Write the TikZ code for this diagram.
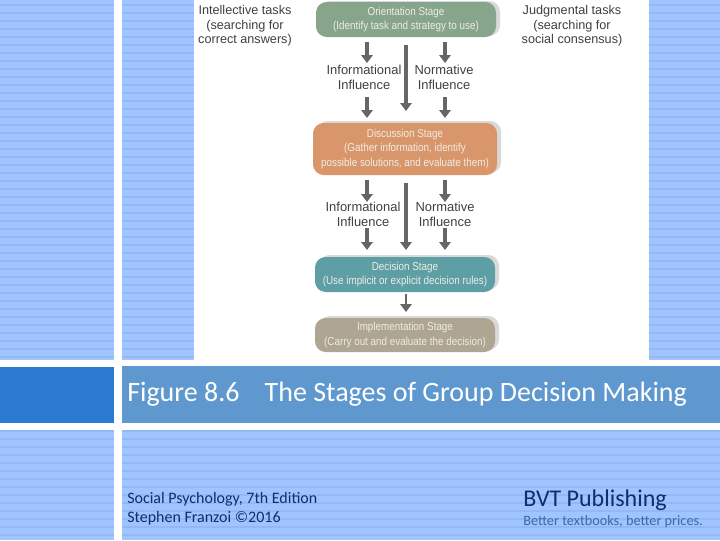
\documentclass[tikz,border=0pt]{standalone}
\usepackage{fontspec}
\setmainfont{Carlito}
\newfontfamily\figfont{Liberation Sans}
\newfontfamily\stagefont[FakeStretch=0.86]{Liberation Sans}
\usetikzlibrary{arrows.meta}
\definecolor{panelblue}{HTML}{9FC4FF}
\definecolor{stripeblue}{HTML}{92B9F4}
\definecolor{bandblue}{HTML}{5F98CE}
\definecolor{darkblue}{HTML}{2A7AD2}
\definecolor{flowgray}{HTML}{666666}
\definecolor{orientgreen}{HTML}{86A58B}
\definecolor{discussorange}{HTML}{D9966B}
\definecolor{decideteal}{HTML}{5D9FA5}
\definecolor{implementtan}{HTML}{AEA592}
\definecolor{stagetext}{HTML}{EDEDE4}
\definecolor{navytext}{HTML}{0F2F6B}
\definecolor{slogantext}{HTML}{3A68A8}
\tikzset{
  stage/.style={rounded corners=8pt, inner sep=0pt, align=center, text=stagetext,
    font=\stagefont\fontsize{8.6}{10.8}\selectfont},
  influence/.style={align=center, text=black!75, font=\figfont\fontsize{9.7}{11.2}\selectfont},
  tasks/.style={align=center, text=black!75, font=\figfont\fontsize{9.5}{10.8}\selectfont},
  flow/.style={draw=flowgray, line width=2.6pt, -{Triangle[length=6pt, width=8.5pt]}},
  panel/.style={fill=panelblue, draw=none}
}
\begin{document}
\begin{tikzpicture}[x=0.75pt, y=-0.75pt]
  \useasboundingbox (0,0) rectangle (720,540);

  % panels
  \fill[white] (0,0) rectangle (720,540);
  \fill[panel] (0,0) rectangle (114,360);
  \fill[panel] (122,0) rectangle (194,360);
  \fill[panel] (649,0) rectangle (720,360);
  \fill[panel] (0,430) rectangle (114,540);
  \fill[panel] (122,430) rectangle (720,540);
  \foreach \y in {4,12,...,356} {
    \fill[stripeblue] (0,\y) rectangle (114,\y+2);
    \fill[stripeblue] (122,\y) rectangle (194,\y+2);
    \fill[stripeblue] (649,\y) rectangle (720,\y+2);
  }
  \foreach \y in {430,438,...,534} {
    \fill[stripeblue] (0,\y) rectangle (114,\y+2);
    \fill[stripeblue] (122,\y) rectangle (720,\y+2);
  }
  \fill[darkblue] (0,367) rectangle (114,423);
  \fill[bandblue] (122,366) rectangle (720,423);

  % stage boxes
  \fill[black!15, rounded corners=8pt] (320,1) rectangle (500,36);
  \fill[black!15, rounded corners=8pt] (317,121) rectangle (501,173);
  \fill[black!15, rounded corners=8pt] (319,255) rectangle (499,290);
  \fill[black!15, rounded corners=8pt] (319,316) rectangle (499,350);
  \node[stage, fill=orientgreen, minimum width=180*0.75pt, minimum height=35*0.75pt] (orient) at (406,19.5)
    {Orientation Stage\\(Identify task and strategy to use)};
  \node[stage, fill=discussorange, minimum width=184*0.75pt, minimum height=52*0.75pt] (discuss) at (405,149)
    {Discussion Stage\\(Gather information, identify\\possible solutions, and evaluate them)};
  \node[stage, fill=decideteal, minimum width=180*0.75pt, minimum height=35*0.75pt] (decide) at (405,274.5)
    {Decision Stage\\(Use implicit or explicit decision rules)};
  \node[stage, fill=implementtan, minimum width=180*0.75pt, minimum height=34*0.75pt] (implement) at (405,335)
    {Implementation Stage\\(Carry out and evaluate the decision)};

  % side labels
  \node[tasks] (intel) at (245,26)
    {Intellective tasks\\(searching for\\correct answers)};
  \node[tasks] (judge) at (572,26)
    {Judgmental tasks\\(searching for\\social consensus)};

  % influence labels
  \node[influence] (info1) at (364,77) {Informational\\Influence};
  \node[influence] (norm1) at (444,77) {Normative\\Influence};
  \node[influence] (info2) at (363,214.5) {Informational\\Influence};
  \node[influence] (norm2) at (445,214) {Normative\\Influence};

  % arrows
  \coordinate (a1) at (367,42);
  \coordinate (a2) at (367,63);
  \coordinate (a3) at (367,97);
  \coordinate (a4) at (367,118);
  \coordinate (b1) at (406,45);
  \coordinate (b2) at (406,111);
  \coordinate (c1) at (445,42);
  \coordinate (c2) at (445,63);
  \coordinate (c3) at (445,97);
  \coordinate (c4) at (445,118);
  \draw[flow] (a1) -- (a2);
  \draw[flow] (a3) -- (a4);
  \draw[flow] (b1) -- (b2);
  \draw[flow] (c1) -- (c2);
  \draw[flow] (c3) -- (c4);

  \coordinate (d1) at (367,180);
  \coordinate (d2) at (367,202);
  \coordinate (d3) at (367,228);
  \coordinate (d4) at (367,250);
  \coordinate (e1) at (406,183);
  \coordinate (e2) at (406,250);
  \coordinate (f1) at (445,180);
  \coordinate (f2) at (445,202);
  \coordinate (f3) at (445,228);
  \coordinate (f4) at (445,250);
  \draw[flow] (d1) -- (d2);
  \draw[flow] (d3) -- (d4);
  \draw[flow] (e1) -- (e2);
  \draw[flow] (f1) -- (f2);
  \draw[flow] (f3) -- (f4);

  \coordinate (g1) at (406,294);
  \coordinate (g2) at (406,312);
  \draw[flow, line width=1.6pt] (g1) -- (g2);

  % footer text
  \node[anchor=west, inner sep=0pt, text=white, font=\fontsize{21}{24}\selectfont] (title) at (127,394.5)
    {Figure 8.6\hspace{0.9em}The Stages of Group Decision Making};
  \node[anchor=west, inner sep=0pt, text=navytext, align=left, font=\fontsize{12}{14}\selectfont] (source) at (127,508.5)
    {Social Psychology, 7th Edition\\Stephen Franzoi ©2016};
  \node[anchor=west, inner sep=0pt, text=navytext, font=\fontsize{18}{20}\selectfont] (bvt) at (523,500.5) {BVT Publishing};
  \node[anchor=west, inner sep=0pt, text=slogantext, font=\fontsize{10.7}{12}\selectfont] (slogan) at (523,522) {Better textbooks, better prices.};
\end{tikzpicture}
\end{document}
